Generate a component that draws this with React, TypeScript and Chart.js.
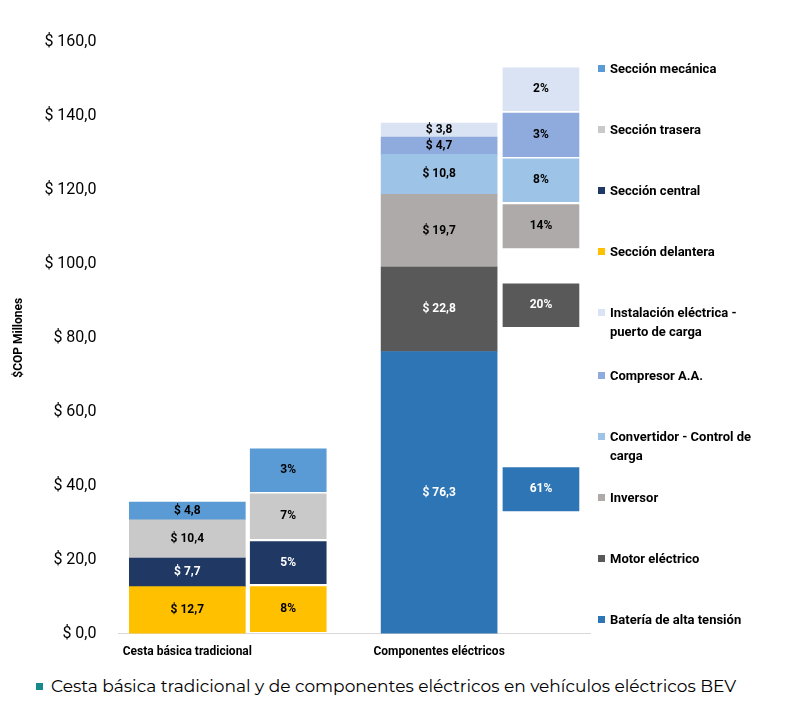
import React, { useEffect, useRef } from "react";
import { Chart, registerables } from "chart.js";
Chart.register(...registerables);

const categories = ["Cesta básica tradicional", "Componentes eléctricos"];
const catX = [14.6, 68.0];
const pctX = [36.0, 89.6];

const cestaNames = ["Sección delantera", "Sección central", "Sección trasera", "Sección mecánica"];
const cestaValues = [12.7, 7.7, 10.4, 4.8];
const cestaColors = ["#FFC000", "#203864", "#C9C9C9", "#5B9BD5"];
const cestaPct = ["8%", "5%", "7%", "3%"];
const cestaPctRanges = [[0.5, 12.7], [13.5, 24.9], [25.7, 37.8], [38.4, 50.0]];

const compNames = ["Batería de alta tensión", "Motor eléctrico", "Inversor", "Convertidor - Control de carga", "Compresor A.A.", "Instalación eléctrica - puerto de carga"];
const compValues = [76.3, 22.8, 19.7, 10.8, 4.7, 3.8];
const compColors = ["#2E75B6", "#595959", "#AEAAAA", "#9DC3E6", "#8FAADC", "#DAE3F3"];
const compPct = ["61%", "20%", "14%", "8%", "3%", "2%"];
const compPctRanges = [[33.2, 44.9], [83.0, 94.6], [104.3, 116.0], [116.8, 128.4], [129.0, 140.8], [141.4, 153.0]];

const yTicks = [0, 20, 40, 60, 80, 100, 120, 140, 160];

const legendItems = [
  ["Sección mecánica", "#5B9BD5"], ["Sección trasera", "#C9C9C9"], ["Sección central", "#203864"],
  ["Sección delantera", "#FFC000"], ["Instalación eléctrica - puerto de carga", "#DAE3F3"],
  ["Compresor A.A.", "#8FAADC"], ["Convertidor - Control de carga", "#9DC3E6"], ["Inversor", "#AEAAAA"],
  ["Motor eléctrico", "#595959"], ["Batería de alta tensión", "#2E75B6"],
];
const legendTops = [51, 112, 173, 234, 295, 358, 419, 480, 541, 602];

const FONT = "Roboto, 'Liberation Sans', sans-serif";
const darkColors = ["#203864", "#595959", "#2E75B6"];
const fmt = (v: number) => "$ " + v.toFixed(1).replace(".", ",");

export default function App() {
  const ref = useRef<HTMLCanvasElement>(null);
  useEffect(() => {
    const datasets: any[] = [];
    const addStack = (x: number, values: number[], colors: string[], pcts: string[], ranges: number[][], px: number) => {
      let acc = 0;
      values.forEach((v, i) => {
        datasets.push({ data: [{ x, y: [acc, acc + v] }], backgroundColor: colors[i], barThickness: 116, lbl: fmt(v), dark: darkColors.includes(colors[i]) });
        acc += v;
      });
      pcts.forEach((p, i) => {
        datasets.push({ data: [{ x: px, y: ranges[i] }], backgroundColor: colors[i], barThickness: 76, lbl: p, dark: darkColors.includes(colors[i]) });
      });
    };
    addStack(catX[0], cestaValues, cestaColors, cestaPct, cestaPctRanges, pctX[0]);
    addStack(catX[1], compValues, compColors, compPct, compPctRanges, pctX[1]);

    const labelPlugin = {
      id: "lbls",
      afterDatasetsDraw(chart: any) {
        const ctx = chart.ctx;
        ctx.save();
        ctx.font = "bold 12px " + FONT;
        ctx.textAlign = "center";
        ctx.textBaseline = "middle";
        chart.data.datasets.forEach((ds: any, i: number) => {
          const el = chart.getDatasetMeta(i).data[0];
          if (!el) return;
          ctx.fillStyle = ds.dark ? "#FFFFFF" : "#000000";
          ctx.fillText(ds.lbl, el.x, (el.y + el.base) / 2);
        });
        ctx.restore();
      },
    };

    const chart = new Chart(ref.current!, {
      type: "bar",
      data: { datasets },
      options: {
        animation: false,
        responsive: false,
        parsing: { xAxisKey: "x", yAxisKey: "y" } as any,
        datasets: { bar: { grouped: false } } as any,
        layout: { padding: { right: 196, top: 34 } },
        plugins: { legend: { display: false }, tooltip: { enabled: false } },
        scales: {
          x: {
            type: "linear", min: 0, max: 100, offset: false,
            grid: { display: false },
            border: { display: true, color: "#D9D9D9" },
            afterBuildTicks: (s: any) => { s.ticks = catX.map((v) => ({ value: v })); },
            ticks: {
              autoSkip: false, maxRotation: 0, color: "#000",
              font: { family: FONT, size: 12, weight: "bold" },
              callback: (v: any) => categories[catX.indexOf(Number(v))] ?? "",
            },
          },
          y: {
            min: 0, max: 160,
            grid: { display: false },
            border: { display: false },
            afterBuildTicks: (s: any) => { s.ticks = yTicks.map((v) => ({ value: v })); },
            ticks: { color: "#000", font: { family: FONT, size: 16 }, padding: 14, callback: (v: any) => fmt(Number(v)) },
            title: { display: true, text: "$COP Millones", color: "#000", font: { family: FONT, size: 12, weight: "bold" } },
          },
        },
      },
      plugins: [labelPlugin],
    } as any);
    return () => chart.destroy();
  }, []);

  return (
    <div style={{ position: "relative", width: 778, height: 702, fontFamily: FONT }}>
      <canvas ref={ref} width={778} height={654} style={{ display: "block" }} />
      {legendItems.map(([t, c], i) => (
        <div key={i} style={{ position: "absolute", left: 590, top: legendTops[i], width: 180, fontSize: 13, fontWeight: "bold", lineHeight: "19px", display: "flex" }}>
          <span style={{ width: 7, height: 7, background: c, marginTop: 6, marginRight: 5, flex: "none" }} />
          <span>{t}</span>
        </div>
      ))}
      <div style={{ position: "absolute", left: 28, top: 668, fontFamily: "'Montserrat','Open Sans','Noto Sans',sans-serif", fontSize: 17, display: "flex", alignItems: "center" }}>
        <span style={{ width: 7, height: 7, background: "#17898A", marginRight: 8 }} />
        Cesta básica tradicional y de componentes eléctricos en vehículos eléctricos BEV
      </div>
    </div>
  );
}
